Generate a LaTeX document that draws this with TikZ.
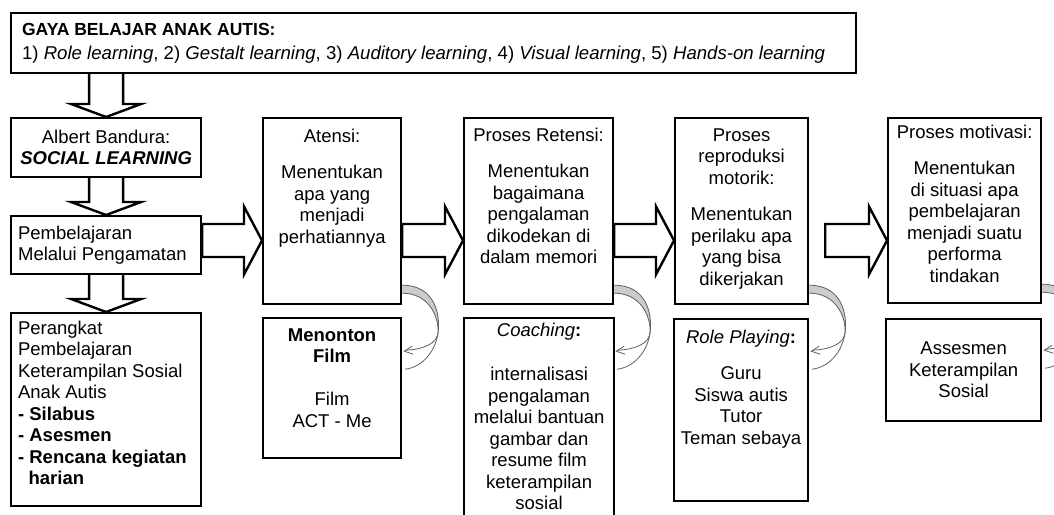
\documentclass[tikz,border=0pt]{standalone}
\usepackage{fontspec}
\setmainfont{Liberation Sans}
\usetikzlibrary{calc}
\newcommand\fs{\fontsize{18.5}{21.5}\selectfont}
\newcommand\ftop{\fontsize{17.5}{24}\selectfont}
\tikzset{
  box/.style={draw, line width=2.2pt, inner sep=0pt, fill=white},
  blk/.style={draw, line width=2.4pt, line join=miter},
  curv/.style={draw=gray!75!black, line width=0.8pt},
}
% horizontal block arrow: from node, to node, centre y, gap at start
\newcommand\harrow[4]{%
  \draw[blk] let \p1=(#1.east), \p2=(#2.west) in
    (\x1+#4,#3+16.5) -- (\x2-18,#3+16.5) -- (\x2-18,#3+34) -- (\x2,#3)
    -- (\x2-18,#3-34) -- (\x2-18,#3-16.5) -- (\x1+#4,#3-16.5) -- cycle;}
% vertical block arrow: from node above to node below
\newcommand\varrow[2]{%
  \draw[blk] let \p1=(#1.south), \p2=(#2.north) in
    (\x2-17,\y1) -- (\x2-17,\y2+13) -- (\x2-35,\y2+13) -- (\x2,\y2)
    -- (\x2+35,\y2+13) -- (\x2+17,\y2+13) -- (\x2+17,\y1);}
% curved grey arrow from the right side of an upper box to the lower box
\newcommand\curvarrow[2]{%
  \begin{scope}[shift={($(#1.south east)!0!(#2.north east)+(0,-22)$)}]
    \fill[gray!40] (0,42) .. controls (32,42) and (38,14) .. (36,-4)
      .. controls (36,12) and (26,34) .. (0,34) -- cycle;
    \draw[curv] (0,42) .. controls (32,42) and (38,14) .. (36,-4)
      .. controls (34,-24) and (20,-40) .. (3,-42);
    \draw[curv] (0,34) .. controls (26,34) and (36,12) .. (36,-4)
      .. controls (36,-16) and (22,-22) .. (4,-23);
    \draw[curv] (10,-19) -- (2,-24) -- (11,-27);
  \end{scope}}
\begin{document}
\begin{tikzpicture}[x=1pt,y=1pt]
\clip (0,0) rectangle (1054,514);
\fill[white] (0,0) rectangle (1054,514);

\node[box,anchor=north west] (top) at (10,502) {\parbox[c][60pt][c]{845pt}{\ftop\raggedright\leftskip=11pt
  \textbf{GAYA BELAJAR ANAK AUTIS:}\\
  \fontsize{18.6}{24}\selectfont
  1) \textit{Role learning}, 2) \textit{Gestalt learning}, 3) \textit{Auditory learning}, 4) \textit{Visual learning}, 5) \textit{Hands-on learning}\par}};

\node[box,anchor=north west] (alb) at (10,397) {\parbox[c][59pt][c]{190pt}{\fs\centering
  Albert Bandura:\\ \textbf{\textit{SOCIAL LEARNING}}\par}};

\node[box,anchor=north west] (pem) at (10,299) {\parbox[c][58pt][c]{190pt}{\fs\raggedright\leftskip=7pt
  Pembelajaran\\ Melalui Pengamatan\par}};

\node[box,anchor=north west] (per) at (10,202) {\parbox[c][193pt][t]{190pt}{\fs\raggedright\leftskip=7pt
  \vspace*{6pt}\strut Perangkat\\ Pembelajaran\\ Keterampilan Sosial\\ Anak Autis\\
  \textbf{- Silabus}\\ \textbf{- Asesmen}\\ \textbf{- Rencana kegiatan}\\ \textbf{\hspace*{10.5pt}harian}\par}};

\node[box,anchor=north west] (ate) at (262,397) {\parbox[c][186pt][t]{138pt}{\fs\centering
  \vspace*{9pt}\strut Atensi:\\[15pt] Menentukan\\ apa yang\\ menjadi\\ perhatiannya\par}};

\node[box,anchor=north west] (ret) at (463,397) {\parbox[c][186pt][t]{149pt}{\fs\centering
  \vspace*{8pt}\strut Proses Retensi:\\[15pt] Menentukan\\ bagaimana\\ pengalaman\\ dikodekan di\\ dalam memori\par}};

\node[box,anchor=north west] (rep) at (674,397) {\parbox[c][186pt][t]{133pt}{\fs\centering
  \vspace*{8pt}\strut Proses\\ reproduksi\\ motorik:\\[15pt] Menentukan\\ perilaku apa\\ yang bisa\\ dikerjakan\par}};

\node[box,anchor=north west] (mot) at (887,397) {\parbox[c][185pt][t]{153pt}{\fs\centering
  \vspace*{5pt}\strut Proses motivasi:\\[15pt] Menentukan\\ di situasi apa\\ pembelajaran\\ menjadi suatu\\ performa\\ tindakan\par}};

\node[box,anchor=north west] (men) at (262,197) {\parbox[c][140pt][t]{138pt}{\fs\centering
  \vspace*{8pt}\strut\textbf{Menonton}\\ \textbf{Film}\\[21.5pt] Film\\ ACT - Me\par}};

\node[box,anchor=north west] (coa) at (463,197) {\parbox[c][215pt][t]{150pt}{\fs\centering
  \vspace*{3pt}\strut\textit{Coaching}\textbf{:}\\[23pt] internalisasi\\ pengalaman\\ melalui bantuan\\ gambar dan\\ resume film\\ keterampilan\\ sosial\par}};

\node[box,anchor=north west] (rol) at (673,196) {\parbox[c][182pt][t]{134pt}{\fs\centering
  \vspace*{9pt}\strut\textit{Role Playing}\textbf{:}\\[15pt] Guru\\ Siswa autis\\ Tutor\\ Teman sebaya\par}};

\node[box,anchor=north west] (ass) at (885,196) {\parbox[c][102pt][c]{155pt}{\fs\centering
  Assesmen\\ Keterampilan\\ Sosial\par}};

% vertical block arrows
\varrow{top}{alb}
\varrow{alb}{pem}
\varrow{pem}{per}

% horizontal block arrows
\harrow{pem}{ate}{273.5}{0}
\harrow{ate}{ret}{273.5}{0}
\harrow{ret}{rep}{273.5}{0}
\harrow{rep}{mot}{273.5}{16}

% curved arrows
\curvarrow{ate}{men}
\curvarrow{ret}{coa}
\curvarrow{rep}{rol}
\curvarrow{mot}{ass}
\end{tikzpicture}
\end{document}
